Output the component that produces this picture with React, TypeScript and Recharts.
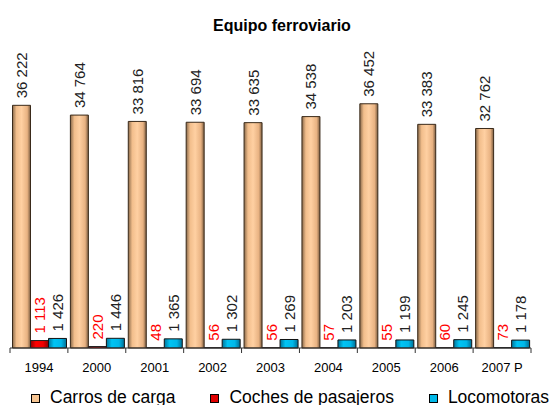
import { Bar, BarChart, LabelList, Legend, XAxis, YAxis } from 'recharts';

const years = ['1994', '2000', '2001', '2002', '2003', '2004', '2005', '2006', '2007 P'];
const carrosDeCarga = [36222, 34764, 33816, 33694, 33635, 34538, 36452, 33383, 32762];
const cochesDePasajeros = [1113, 220, 48, 56, 56, 57, 55, 60, 73];
const locomotoras = [1426, 1446, 1365, 1302, 1269, 1203, 1199, 1245, 1178];

const chartData = years.map((year, i) => ({
  year,
  carros: carrosDeCarga[i],
  coches: cochesDePasajeros[i],
  locomotoras: locomotoras[i],
}));

const WIDTH = 549;
const HEIGHT = 405;
const margin = { top: 80, right: 18, bottom: 7, left: 10 };
const band = (WIDTH - margin.left - margin.right) / years.length;
const font = '"Liberation Sans", Arial, sans-serif';

const legendItems = [
  { label: 'Carros de carga', fill: '#f7c592' },
  { label: 'Coches de pasajeros', fill: '#e00000' },
  { label: 'Locomotoras', fill: '#00b8e8' },
];

const formatNumber = (value: number) => String(value).replace(/\B(?=(\d{3})+(?!\d))/g, ' ');

const makeLabel = (color: string) => (props: any) => {
  const cx = Number(props.x) + Number(props.width) / 2;
  const cy = Number(props.y) - 7;
  return (
    <text
      x={cx}
      y={cy}
      transform={`rotate(-90 ${cx} ${cy})`}
      fill={color}
      fontSize={15}
      fontFamily={font}
      textAnchor="start"
      dominantBaseline="central"
    >
      {formatNumber(Number(props.value))}
    </text>
  );
};

function YearTick(props: any) {
  const { x, y, payload, index } = props;
  const left = x - band / 2;
  const right = x + band / 2;
  return (
    <g>
      <line x1={left} y1={y} x2={left} y2={y + 5} stroke="#333" />
      {index === years.length - 1 ? (
        <line x1={right} y1={y} x2={right} y2={y + 5} stroke="#333" />
      ) : null}
      <text
        x={x}
        y={y + 19}
        textAnchor="middle"
        dominantBaseline="central"
        fontSize={13}
        fontFamily={font}
        fill="#000"
      >
        {payload.value}
      </text>
    </g>
  );
}

function LegendContent() {
  return (
    <div
      style={{
        display: 'flex',
        alignItems: 'baseline',
        paddingLeft: 31,
        height: 20,
        lineHeight: '20px',
        fontFamily: font,
        fontSize: 17.5,
        color: '#000',
        whiteSpace: 'nowrap',
      }}
    >
      {legendItems.map((item) => (
        <span key={item.label} style={{ marginRight: 35, display: 'inline-flex', alignItems: 'baseline' }}>
          <span
            style={{
              display: 'inline-block',
              width: 7,
              height: 7,
              border: '1px solid #000',
              background: item.fill,
              marginRight: 10,
            }}
          />
          {item.label}
        </span>
      ))}
    </div>
  );
}

export default function App() {
  return (
    <div style={{ position: 'absolute', left: 0, top: 0, width: WIDTH, height: HEIGHT, overflow: 'hidden', background: '#fff' }}>
      <div
        style={{
          position: 'absolute',
          top: 17,
          left: 0,
          width: 564,
          textAlign: 'center',
          fontFamily: font,
          fontWeight: 'bold',
          fontSize: 16,
          lineHeight: '18px',
          color: '#000',
        }}
      >
        Equipo ferroviario
      </div>
      <BarChart
        width={WIDTH}
        height={HEIGHT}
        data={chartData}
        margin={margin}
        barCategoryGap={2.5}
        barGap={0}
      >
        <defs>
          <linearGradient id="gradCarros" x1="0" y1="0" x2="1" y2="0">
            <stop offset="0%" stopColor="#8a6a4a" />
            <stop offset="22%" stopColor="#f2be8c" />
            <stop offset="50%" stopColor="#ffd0a2" />
            <stop offset="82%" stopColor="#e8b282" />
            <stop offset="100%" stopColor="#7a5c40" />
          </linearGradient>
          <linearGradient id="gradCoches" x1="0" y1="0" x2="1" y2="0">
            <stop offset="0%" stopColor="#900000" />
            <stop offset="30%" stopColor="#ff0000" />
            <stop offset="70%" stopColor="#f00000" />
            <stop offset="100%" stopColor="#900000" />
          </linearGradient>
          <linearGradient id="gradLoco" x1="0" y1="0" x2="1" y2="0">
            <stop offset="0%" stopColor="#00749a" />
            <stop offset="30%" stopColor="#00c4f4" />
            <stop offset="70%" stopColor="#00b8ea" />
            <stop offset="100%" stopColor="#006e94" />
          </linearGradient>
        </defs>
        <XAxis
          dataKey="year"
          interval={0}
          height={30}
          tickSize={0}
          tickMargin={0}
          tickLine={false}
          axisLine={{ stroke: '#333' }}
          tick={(p: any) => <YearTick {...p} />}
        />
        <YAxis hide domain={[0, 40000]} />
        <Legend
          content={() => <LegendContent />}
          wrapperStyle={{ top: 387, left: 0, width: WIDTH, height: 20 }}
        />
        <Bar dataKey="carros" fill="url(#gradCarros)" stroke="#3a2a1a" strokeWidth={1} isAnimationActive={false}>
          <LabelList dataKey="carros" content={makeLabel('#222')} />
        </Bar>
        <Bar dataKey="coches" fill="url(#gradCoches)" stroke="#222" strokeWidth={1} isAnimationActive={false}>
          <LabelList dataKey="coches" content={makeLabel('#ff0000')} />
        </Bar>
        <Bar dataKey="locomotoras" fill="url(#gradLoco)" stroke="#111" strokeWidth={1} isAnimationActive={false}>
          <LabelList dataKey="locomotoras" content={makeLabel('#222')} />
        </Bar>
      </BarChart>
    </div>
  );
}
